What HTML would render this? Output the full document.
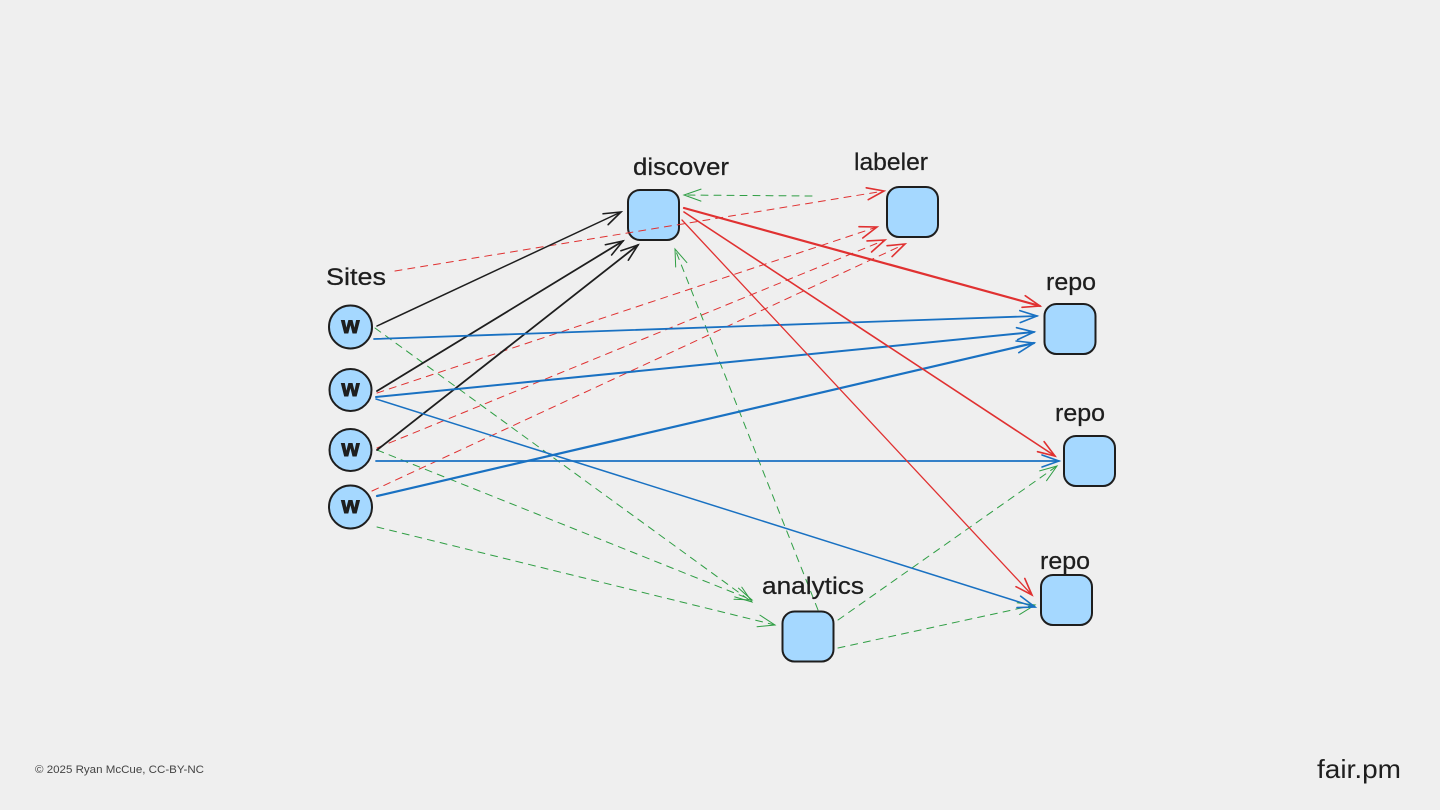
<!DOCTYPE html>
<html>
<head>
<meta charset="utf-8">
<style>
html,body{margin:0;padding:0;background:#efefef;width:1440px;height:810px;overflow:hidden}
svg{display:block}
.l{font-family:"Liberation Sans",sans-serif;font-size:24px;fill:#1e1e1e;stroke:#1e1e1e;stroke-width:.25px}
.w{font-family:"Liberation Sans",sans-serif;font-weight:bold;font-size:23px;fill:#1e1e1e;stroke:#1e1e1e;stroke-width:1px;text-anchor:middle}
.n{fill:#a5d8ff;stroke:#1e1e1e;stroke-width:2}
.k,.b,.r,.g{fill:none;stroke-linecap:round}
.k{stroke:#1e1e1e}.b{stroke:#1971c2}.r{stroke:#e03131}.g{stroke:#2f9e44}
.k{marker-end:url(#mk)}.b{marker-end:url(#mb)}.r{marker-end:url(#mr)}.g{marker-end:url(#mg)}
.d{stroke-dasharray:7 6;stroke-width:1}
</style>
</head>
<body>
<svg width="1440" height="810" viewBox="0 0 1440 810" xmlns="http://www.w3.org/2000/svg">
<defs>
<marker id="mk" markerUnits="userSpaceOnUse" markerWidth="44" markerHeight="44" refX="22" refY="22" orient="auto" overflow="visible"><path d="M5,16 L22,22 L5,28" fill="none" stroke="#1e1e1e" stroke-width="1.6" stroke-linecap="round"/></marker>
<marker id="mb" markerUnits="userSpaceOnUse" markerWidth="44" markerHeight="44" refX="22" refY="22" orient="auto" overflow="visible"><path d="M5,16 L22,22 L5,28" fill="none" stroke="#1971c2" stroke-width="1.6" stroke-linecap="round"/></marker>
<marker id="mr" markerUnits="userSpaceOnUse" markerWidth="44" markerHeight="44" refX="22" refY="22" orient="auto" overflow="visible"><path d="M5,16 L22,22 L5,28" fill="none" stroke="#e03131" stroke-width="1.6" stroke-linecap="round"/></marker>
<marker id="mg" markerUnits="userSpaceOnUse" markerWidth="44" markerHeight="44" refX="22" refY="22" orient="auto" overflow="visible"><path d="M5,16 L22,22 L5,28" fill="none" stroke="#2f9e44" stroke-width="1" stroke-linecap="round"/></marker>
</defs>

<!-- dashed green -->
<line class="g d" x1="375" y1="328" x2="752" y2="602"/>
<line class="g d" x1="377" y1="450" x2="752" y2="600"/>
<line class="g d" x1="377" y1="527" x2="775" y2="625"/>
<line class="g d" x1="812" y1="196" x2="684" y2="195"/>
<line class="g d" x1="818" y1="610" x2="675" y2="249"/>
<line class="g d" x1="838" y1="620" x2="1057" y2="466"/>
<line class="g d" x1="838" y1="648" x2="1035" y2="605"/>

<!-- nodes -->
<rect class="n" x="628" y="190" width="51" height="50" rx="12"/>
<rect class="n" x="887" y="187" width="51" height="50" rx="12"/>
<rect class="n" x="1044.500" y="304" width="51" height="50" rx="12"/>
<rect class="n" x="1064" y="436" width="51" height="50" rx="12"/>
<rect class="n" x="1041" y="575" width="51" height="50" rx="12"/>
<rect class="n" x="782.500" y="611.500" width="51" height="50" rx="12"/>
<circle class="n" cx="350.500" cy="327" r="21.500"/>
<circle class="n" cx="350.500" cy="390" r="21"/>
<circle class="n" cx="350.500" cy="450" r="21"/>
<circle class="n" cx="350.500" cy="507" r="21.500"/>
<text class="w" x="350.500" y="333">w</text>
<text class="w" x="350.500" y="396">w</text>
<text class="w" x="350.500" y="456">w</text>
<text class="w" x="350.500" y="513">w</text>

<!-- dashed red -->
<line class="r d" x1="395" y1="271" x2="884" y2="191"/>
<line class="r d" x1="377" y1="393" x2="877" y2="227"/>
<line class="r d" x1="377" y1="448" x2="885" y2="240"/>
<line class="r d" x1="372" y1="491" x2="905" y2="244"/>

<!-- black -->
<line class="k" stroke-width="1.500" x1="377" y1="326" x2="621" y2="212"/>
<line class="k" stroke-width="1.800" x1="377" y1="391" x2="623" y2="241"/>
<line class="k" stroke-width="1.800" x1="377" y1="450" x2="638" y2="245"/>

<!-- blue -->
<line class="b" stroke-width="1.800" x1="374" y1="339" x2="1037" y2="316"/>
<line class="b" stroke-width="2" x1="376" y1="397" x2="1034" y2="332"/>
<line class="b" stroke-width="1.500" x1="376" y1="399" x2="1035" y2="607"/>
<line class="b" stroke-width="1.800" x1="376" y1="461" x2="1059" y2="461"/>
<line class="b" stroke-width="2.200" x1="377" y1="496" x2="1034" y2="343"/>

<!-- red -->
<line class="r" stroke-width="2.200" x1="684" y1="208" x2="1040" y2="306"/>
<line class="r" stroke-width="1.600" x1="684" y1="212" x2="1055" y2="456"/>
<line class="r" stroke-width="1.300" x1="682" y1="220" x2="1032" y2="595"/>

<!-- labels -->
<text class="l" x="633" y="175" textLength="96" lengthAdjust="spacingAndGlyphs">discover</text>
<text class="l" x="854" y="170" textLength="74" lengthAdjust="spacingAndGlyphs">labeler</text>
<text class="l" x="326" y="285" textLength="60" lengthAdjust="spacingAndGlyphs">Sites</text>
<text class="l" x="1046" y="290" textLength="50" lengthAdjust="spacingAndGlyphs">repo</text>
<text class="l" x="1055" y="421" textLength="50" lengthAdjust="spacingAndGlyphs">repo</text>
<text class="l" x="1040" y="569" textLength="50" lengthAdjust="spacingAndGlyphs">repo</text>
<text class="l" x="762" y="594" textLength="102" lengthAdjust="spacingAndGlyphs">analytics</text>

<!-- footer -->
<text x="35" y="773" font-family="Liberation Sans,sans-serif" font-size="11" fill="#444" textLength="169" lengthAdjust="spacingAndGlyphs">© 2025 Ryan McCue, CC-BY-NC</text>
<text x="1317" y="778" font-family="Liberation Sans,sans-serif" font-size="26" fill="#1e1e1e" textLength="84" lengthAdjust="spacingAndGlyphs">fair.pm</text>
</svg>
</body>
</html>
